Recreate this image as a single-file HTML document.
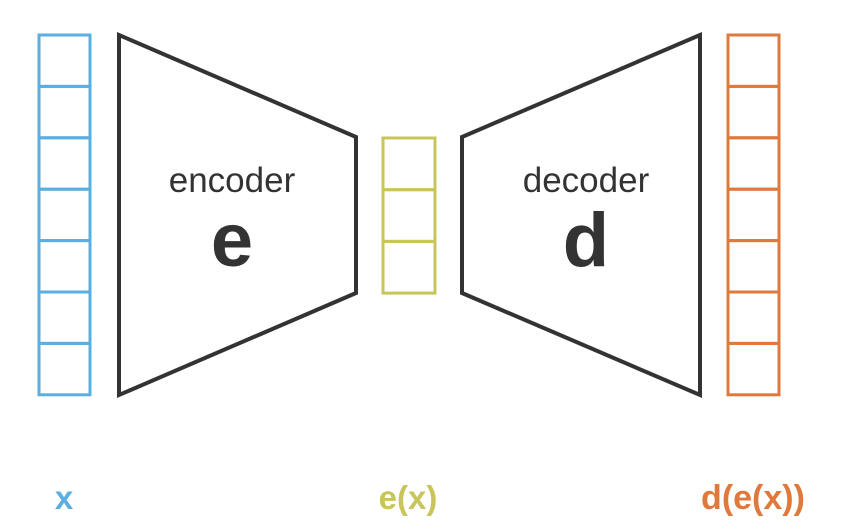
<!DOCTYPE html>
<html><head><meta charset="utf-8"><style>html,body{margin:0;padding:0;background:#fff}svg{display:block}</style></head>
<body>
<svg width="850" height="532" viewBox="0 0 850 532" font-family="Liberation Sans, sans-serif">
<rect width="850" height="532" fill="#fff"/>
<g id="cols"></g>
<polygon points="119,35 356,137 356,293 119,395" fill="none" stroke="#333" stroke-width="4"/>
<polygon points="700,35 462,137 462,293 700,395" fill="none" stroke="#333" stroke-width="4"/>
<text x="232" y="192" font-size="35" fill="#333" text-anchor="middle">encoder</text>
<text x="232" y="266" font-size="76" font-weight="bold" fill="#333" text-anchor="middle">e</text>
<text x="586" y="192" font-size="35" fill="#333" text-anchor="middle">decoder</text>
<text x="586" y="266" font-size="76" font-weight="bold" fill="#333" text-anchor="middle">d</text>
<text x="64" y="509" font-size="33" font-weight="bold" fill="#5aafe0" text-anchor="middle">x</text>
<text x="408" y="509" font-size="33" font-weight="bold" fill="#c8c55a" text-anchor="middle">e(x)</text>
<text x="753" y="509" font-size="34" font-weight="bold" fill="#e07a3c" text-anchor="middle">d(e(x))</text>
</svg>
<script>
const columns = [
  {name:'input-column', x:39, y:35, w:51, n:7, h:51.4, c:'#5aafe0'},
  {name:'code-column', x:383, y:138, w:52, n:3, h:51.7, c:'#c8c55a'},
  {name:'output-column', x:728, y:35, w:51, n:7, h:51.4, c:'#e07a3c'}
];
const g = document.getElementById('cols');
const NS = 'http://www.w3.org/2000/svg';
columns.forEach(col => {
  const grp = document.createElementNS(NS,'g');
  
  
  for (let i=0;i<col.n;i++){
    const r = document.createElementNS(NS,'rect');
    r.setAttribute('x',col.x); r.setAttribute('y',col.y+i*col.h);
    r.setAttribute('width',col.w); r.setAttribute('height',col.h);
    r.setAttribute('fill','none'); r.setAttribute('stroke',col.c); r.setAttribute('stroke-width','3');
    
    
    grp.appendChild(r);
  }
  g.appendChild(grp);
});
</script>
</body></html>
